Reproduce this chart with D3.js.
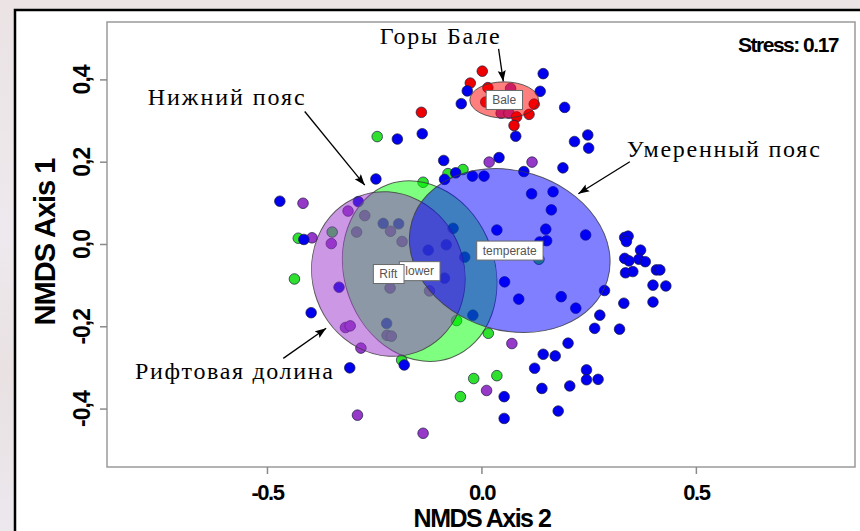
<!DOCTYPE html>
<html>
<head>
<meta charset="utf-8">
<script src="https://d3js.org/d3.v7.min.js"></script>
<style>
  body { margin: 0; }
</style>
</head>
<body>
<script>
// NMDS scores (axis 2 = x, axis 1 = y)
var bluePts = [[-0.033,0.372],[-0.047,0.341],[0.144,0.414],[0.137,0.371],[0.194,0.332],[0.080,0.262],
  [-0.138,0.268],[-0.196,0.255],[0.217,0.249],[0.248,0.265],[0.250,0.233],[-0.088,0.203],[0.041,0.210],
  [0.190,0.185],[-0.060,0.173],[-0.086,0.157],[-0.021,0.165],[0.006,0.165],[0.099,0.176],[-0.246,0.158],
  [0.117,0.122],[0.167,0.127],[0.163,0.083],[0.036,0.034],[0.150,0.036],[0.152,0.008],[0.136,0.005],
  [0.243,0.022],[0.054,-0.092],[0.087,-0.134],[0.186,-0.128],[0.220,-0.156],[-0.020,-0.173],[0.287,-0.113],
  [0.276,-0.173],[0.264,-0.205],[0.322,-0.207],[0.332,-0.144],[0.400,-0.100],[0.400,-0.141],[0.202,-0.241],
  [0.334,0.016],[0.342,0.019],[0.338,0.006],[0.371,-0.015],[0.334,-0.035],[0.344,-0.041],[0.367,-0.037],
  [0.382,-0.043],[0.408,-0.063],[0.416,-0.063],[0.336,-0.070],[0.353,-0.067],[0.430,-0.102],[0.144,-0.268],
  [0.172,-0.272],[0.124,-0.302],[0.245,-0.306],[0.245,-0.330],[0.272,-0.329],[0.141,-0.351],[0.206,-0.345],
  [0.179,-0.406],[0.053,-0.371],[0.053,-0.424],[-0.470,0.104],[-0.287,0.103],[-0.229,0.050],[-0.193,0.049],
  [-0.414,0.011],[-0.332,-0.105],[-0.397,-0.167],[-0.307,-0.301],[-0.180,-0.294],[-0.124,-0.015],
  [-0.082,-0.002],[-0.066,0.038],[-0.039,-0.032],[-0.086,-0.083],[-0.221,-0.193]];
var redPts = [[0.002,0.420],[-0.026,0.391],[0.015,0.380],[0.010,0.345],[0.123,0.340],[0.111,0.315],
  [0.082,0.309],[0.076,0.288],[-0.140,0.320]];
var purplePts = [[0.068,0.378],[0.046,0.318],[0.064,0.318],[0.018,0.199],[0.118,0.199],[-0.416,0.099],
  [-0.311,0.080],[-0.272,0.069],[-0.212,0.031],[-0.291,0.029],[-0.185,0.006],[-0.395,0.015],[-0.350,0.001],
  [-0.213,-0.107],[-0.121,-0.114],[-0.317,-0.203],[-0.306,-0.199],[-0.220,-0.222],[-0.210,-0.224],
  [-0.281,-0.253],[-0.289,-0.416],[-0.136,-0.460],[0.071,-0.242],[0.012,-0.356]];
var greenPts = [[-0.243,0.261],[-0.043,0.181],[-0.078,0.171],[-0.136,0.150],[-0.348,0.029],[-0.427,0.014],
  [-0.436,-0.085],[-0.186,-0.282],[-0.058,-0.186],[0.134,-0.037],[0.016,-0.217],[-0.018,-0.327],
  [0.036,-0.320],[-0.049,-0.371]];

// group ellipses (centre, semi-axes in data units, tilt in degrees)
var ellNames = ["lower", "Rift", "temperate", "Bale"];
var ellCx = [-0.144, -0.217, 0.066, 0.053];
var ellCy = [-0.066, -0.073, -0.016, 0.350];
var ellRx = [0.175, 0.177, 0.238, 0.080];
var ellRy = [0.224, 0.202, 0.194, 0.044];
var ellAngle = [-20, -20, 17, 0];

var xTicks = [-0.5, 0, 0.5];
var yTicks = [-0.4, -0.2, 0, 0.2, 0.4];
var xTickLabels = ["-0.5", "0.0", "0.5"];
var yTickLabels = ["-0,4", "-0,2", "0,0", "0,2", "0,4"];

// callouts: text, text start (x,y), arrow from, arrow to
var noteText = ["Горы Бале", "Нижний пояс", "Умеренный пояс", "Рифтовая долина"];
var noteXY = [[-0.237,0.487],[-0.778,0.338],[0.339,0.211],[-0.808,-0.328]];
var noteFrom = [[0.040,0.474],[-0.412,0.322],[0.346,0.200],[-0.462,-0.278]];
var noteTo = [[0.051,0.395],[-0.272,0.143],[0.226,0.122],[-0.362,-0.205]];
var noteWidth = [120, 157, 193, 198];

var ptColor = {green: "#2fe02f", purple: "#9638c8", red: "#ee0000", blue: "#0000ee"};
var ellColor = ["#00ff00", "#9932cc", "#0000ff", "#ff0000"];

var width = 860, height = 531;
var svg = d3.select("body").append("svg")
  .attr("width", width)
  .attr("height", height)
  .style("font-family", "'Liberation Sans', Arial, sans-serif");

var defs = svg.append("defs");
var bg = defs.append("linearGradient").attr("id", "bg").attr("x1", 0).attr("y1", 0).attr("x2", 0).attr("y2", 1);
bg.append("stop").attr("offset", "0%").attr("stop-color", "#ebe3e4");
bg.append("stop").attr("offset", "45%").attr("stop-color", "#eee9ee");
bg.append("stop").attr("offset", "70%").attr("stop-color", "#e9e1e2");
bg.append("stop").attr("offset", "100%").attr("stop-color", "#ece8ee");
defs.append("marker")
  .attr("id", "arrow")
  .attr("markerUnits", "userSpaceOnUse")
  .attr("markerWidth", 12).attr("markerHeight", 10)
  .attr("refX", 11).attr("refY", 4)
  .attr("orient", "auto")
  .append("path").attr("d", "M0,0 L11,4 L0,8 L2,4 z").attr("fill", "#000");

svg.append("rect").attr("width", width).attr("height", height).attr("fill", "url(#bg)");
svg.append("rect")
  .attr("x", 15).attr("y", 10)
  .attr("width", width).attr("height", height)
  .attr("fill", "#fff").attr("stroke", "#000").attr("stroke-width", 2.5);

var x = d3.scaleLinear().domain([-0.873, 0.871]).range([107, 855]);
var y = d3.scaleLinear().domain([-0.542, 0.5395]).range([467, 22]);

// plot frame
svg.append("rect")
  .attr("x", x.range()[0]).attr("y", y.range()[1])
  .attr("width", x.range()[1] - x.range()[0])
  .attr("height", y.range()[0] - y.range()[1])
  .attr("fill", "#fff").attr("stroke", "#9a9a9a").attr("stroke-width", 1.5);

// axes
var gx = svg.append("g")
  .attr("transform", "translate(0," + y.range()[0] + ")")
  .call(d3.axisBottom(x).tickValues(xTicks).tickSize(7)
    .tickFormat(function (d, i) { return xTickLabels[i]; }));
gx.select(".domain").remove();
gx.selectAll("line").attr("stroke", "#8a8a8a").attr("stroke-width", 1.5);
gx.selectAll("text")
  .attr("y", 33).attr("dy", 0)
  .attr("fill", "#000")
  .style("font-size", "22px").style("font-weight", "bold").style("letter-spacing", "-1.5px");

var gy = svg.append("g")
  .attr("transform", "translate(" + x.range()[0] + ",0)")
  .call(d3.axisLeft(y).tickValues(yTicks).tickSize(7)
    .tickFormat(function (d, i) { return yTickLabels[i]; }));
gy.select(".domain").remove();
gy.selectAll("line").attr("stroke", "#8a8a8a").attr("stroke-width", 1.5);
gy.selectAll("text")
  .attr("x", 0).attr("dy", 0)
  .attr("transform", "translate(-17,0) rotate(-90)")
  .attr("text-anchor", "middle")
  .attr("fill", "#000")
  .style("font-size", "23px").style("font-weight", "bold").style("letter-spacing", "-1px");

svg.append("text")
  .attr("x", 482).attr("y", 527)
  .attr("text-anchor", "middle")
  .style("font-size", "25px").style("font-weight", "bold").style("letter-spacing", "-1.5px")
  .text("NMDS Axis 2");
svg.append("text")
  .attr("transform", "translate(55,242) rotate(-90)")
  .attr("text-anchor", "middle")
  .style("font-size", "29px").style("font-weight", "bold").style("letter-spacing", "-1px")
  .text("NMDS Axis 1");

// points (under the ellipses)
function drawPts(pts, col) {
  svg.append("g").selectAll("circle")
    .data(pts)
    .enter()
    .append("circle")
    .attr("cx", function (d) { return x(d[0]); })
    .attr("cy", function (d) { return y(d[1]); })
    .attr("r", 5.3)
    .attr("fill", col)
    .attr("stroke", "#1a1a40")
    .attr("stroke-width", 0.7);
}
drawPts(greenPts, ptColor.green);
drawPts(purplePts, ptColor.purple);
drawPts(redPts, ptColor.red);
drawPts(bluePts, ptColor.blue);

// ellipses
var ell = svg.append("g").selectAll("g")
  .data(ellNames)
  .enter()
  .append("g")
  .attr("transform", function (d, i) {
    return "translate(" + x(ellCx[i]) + "," + y(ellCy[i]) + ") rotate(" + ellAngle[i] + ")";
  });
ell.append("ellipse")
  .attr("rx", function (d, i) { return x(ellCx[i] + ellRx[i]) - x(ellCx[i]); })
  .attr("ry", function (d, i) { return y(ellCy[i] - ellRy[i]) - y(ellCy[i]); })
  .attr("fill", function (d, i) { return ellColor[i]; })
  .attr("fill-opacity", 0.5)
  .attr("stroke", "#3a3a3a")
  .attr("stroke-opacity", 0.8)
  .attr("stroke-width", 1);

// group labels
var lab = svg.append("g").selectAll("g")
  .data(ellNames)
  .enter()
  .append("g")
  .attr("transform", function (d, i) { return "translate(" + x(ellCx[i]) + "," + y(ellCy[i]) + ")"; });
lab.append("rect").attr("fill", "#fff").attr("stroke", "#6a6a6a").attr("stroke-width", 1);
lab.append("text")
  .attr("text-anchor", "middle")
  .attr("dy", "0.35em")
  .attr("fill", "#555")
  .style("font-size", "12px")
  .text(function (d) { return d; });
lab.each(function () {
  var g = d3.select(this);
  var bb = g.select("text").node().getBBox();
  g.select("rect")
    .attr("x", bb.x - 6).attr("y", -9.5)
    .attr("width", bb.width + 12).attr("height", 19);
});

// callouts
var notes = svg.append("g");
notes.selectAll("line")
  .data(noteText)
  .enter()
  .append("line")
  .attr("x1", function (d, i) { return x(noteFrom[i][0]); })
  .attr("y1", function (d, i) { return y(noteFrom[i][1]); })
  .attr("x2", function (d, i) { return x(noteTo[i][0]); })
  .attr("y2", function (d, i) { return y(noteTo[i][1]); })
  .attr("stroke", "#000")
  .attr("stroke-width", 1.3)
  .attr("marker-end", "url(#arrow)");
notes.selectAll("text")
  .data(noteText)
  .enter()
  .append("text")
  .attr("x", function (d, i) { return x(noteXY[i][0]); })
  .attr("y", function (d, i) { return y(noteXY[i][1]); })
  .attr("textLength", function (d, i) { return noteWidth[i]; })
  .attr("lengthAdjust", "spacing")
  .style("font-family", "'Liberation Serif', 'Times New Roman', serif")
  .style("font-size", "24px")
  .attr("fill", "#000")
  .text(function (d) { return d; });

svg.append("text")
  .attr("x", 838).attr("y", 52)
  .attr("text-anchor", "end")
  .style("font-size", "21px").style("font-weight", "bold").style("letter-spacing", "-1.5px")
  .text("Stress: 0.17");
</script>
</body>
</html>
